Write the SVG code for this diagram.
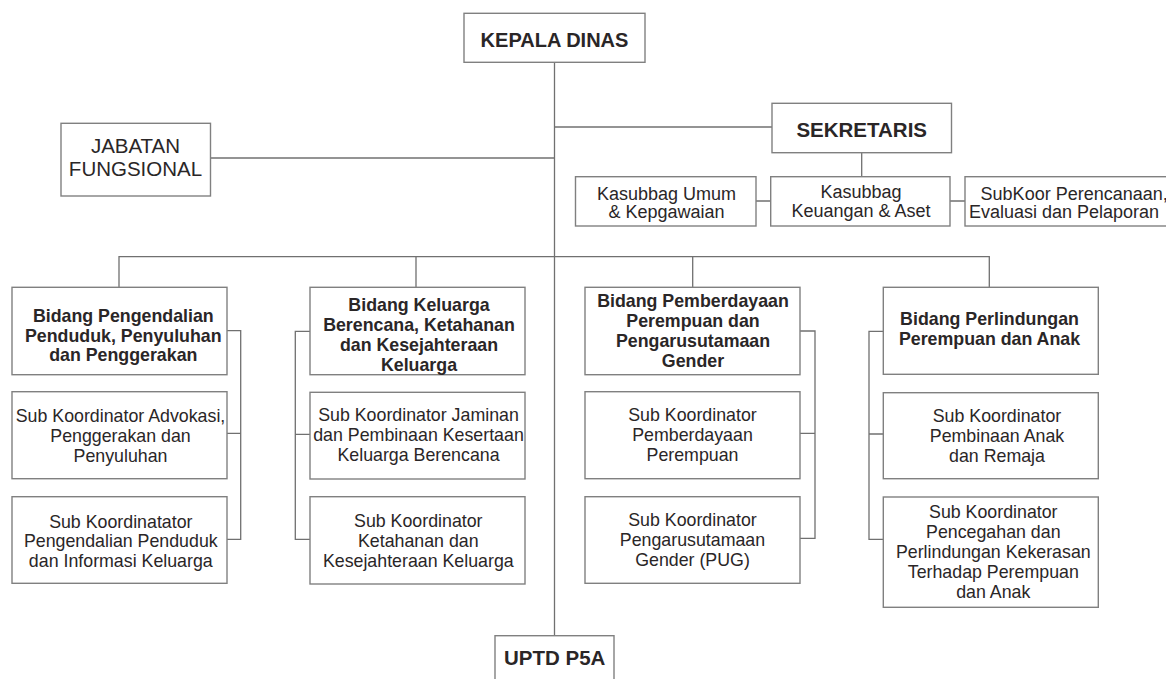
<svg xmlns="http://www.w3.org/2000/svg" width="1166" height="679" viewBox="0 0 1166 679">
<style>
.box{fill:#fff;stroke:#808080;stroke-width:1.4}
.ln{fill:none;stroke:#707070;stroke-width:1.3}
.t{font-family:"Liberation Sans",Arial,sans-serif;fill:#2a2627;text-anchor:middle}
.n{font-size:17.8px}
.b{font-size:17.8px;font-weight:bold}
</style>
<rect width="1166" height="679" fill="#fff"/>
<g id="connectors">
<path class="ln" d="M554.5,62 V635.7"/>
<path class="ln" d="M554.5,127 H772"/>
<path class="ln" d="M210.5,158 H554.5"/>
<path class="ln" d="M861.7,152.7 V176.7"/>
<path class="ln" d="M756,201 H770.7 M950,201 H965"/>
<path class="ln" d="M119,287.3 V256.7 H989.3 V287.3 M416,256.7 V287.3 M692.7,256.7 V287.3"/>
<path class="ln" d="M227,330.7 H240.7 V539.3 H227 M240.7,433.3 H227"/>
<path class="ln" d="M310,331.3 H295.3 V539.3 H310 M295.3,434.3 H310"/>
<path class="ln" d="M800,331 H815 V538.3 H800 M815,433.3 H800"/>
<path class="ln" d="M883.3,331.3 H869 V539.3 H883.3 M869,434 H883.3"/>
</g>
<g id="kepala">
<rect class="box" x="464" y="13.3" width="181" height="49"/>
<text class="t" x="554.5" y="46.7" font-size="20" font-weight="bold">KEPALA DINAS</text>
</g>
<g id="jabatan">
<rect class="box" x="61" y="123.3" width="149.5" height="72.7"/>
<text class="t" x="135.5" y="153.3" font-size="20.5">JABATAN</text>
<text class="t" x="135.5" y="176" font-size="20.5">FUNGSIONAL</text>
</g>
<g id="sekretaris">
<rect class="box" x="772" y="103.3" width="179.5" height="49.4"/>
<text class="t" x="861.7" y="136.7" font-size="20.5" font-weight="bold">SEKRETARIS</text>
</g>
<g id="kasubbag-umum">
<rect class="box" x="575.5" y="176.7" width="180.5" height="49.3"/>
<text class="t" x="666.5" y="199.5" font-size="18">Kasubbag Umum</text>
<text class="t" x="666.5" y="218.3" font-size="18">&amp; Kepgawaian</text>
</g>
<g id="kasubbag-keuangan">
<rect class="box" x="770.7" y="176.7" width="179.3" height="49.3"/>
<text class="t" x="861" y="197.5" font-size="18">Kasubbag</text>
<text class="t" x="861" y="216.7" font-size="18">Keuangan &amp; Aset</text>
</g>
<g id="subkoor-perencanaan">
<rect class="box" x="965" y="176.7" width="220" height="49.3"/>
<text class="t" x="980.6" y="199.5" font-size="18" text-anchor="start" style="text-anchor:start">SubKoor Perencanaan,</text>
<text class="t" x="969" y="218.3" font-size="18" style="text-anchor:start">Evaluasi dan Pelaporan</text>
</g>
<g id="bidang-1">
<rect class="box" x="12" y="287.3" width="215" height="87.4"/>
<text class="t b" x="123.3" y="321.5">Bidang Pengendalian</text>
<text class="t b" x="123.3" y="341.5">Penduduk, Penyuluhan</text>
<text class="t b" x="123.3" y="361.3">dan Penggerakan</text>
</g>
<g id="sub-1a">
<rect class="box" x="12" y="391.7" width="215" height="87"/>
<text class="t n" x="120.5" y="422">Sub Koordinator Advokasi,</text>
<text class="t n" x="120.5" y="441.7">Penggerakan dan</text>
<text class="t n" x="120.5" y="461.7">Penyuluhan</text>
</g>
<g id="sub-1b">
<rect class="box" x="12" y="496.7" width="215" height="86.6"/>
<text class="t n" x="120.8" y="527.7">Sub Koordinatator</text>
<text class="t n" x="120.8" y="546.9">Pengendalian Penduduk</text>
<text class="t n" x="120.8" y="566.7">dan Informasi Keluarga</text>
</g>
<g id="bidang-2">
<rect class="box" x="310" y="287.3" width="215" height="87.4"/>
<text class="t b" x="419" y="310.7">Bidang Keluarga</text>
<text class="t b" x="419" y="330.7">Berencana, Ketahanan</text>
<text class="t b" x="419" y="350.7">dan Kesejahteraan</text>
<text class="t b" x="419" y="370.5">Keluarga</text>
</g>
<g id="sub-2a">
<rect class="box" x="310" y="392.3" width="215" height="86.7"/>
<text class="t n" x="418.5" y="421.3">Sub Koordinator Jaminan</text>
<text class="t n" x="418.5" y="441.3">dan Pembinaan Kesertaan</text>
<text class="t n" x="418.5" y="461.3">Keluarga Berencana</text>
</g>
<g id="sub-2b">
<rect class="box" x="310" y="496.7" width="215" height="87.3"/>
<text class="t n" x="418.3" y="526.7">Sub Koordinator</text>
<text class="t n" x="418.3" y="546.7">Ketahanan dan</text>
<text class="t n" x="418.3" y="566.7">Kesejahteraan Keluarga</text>
</g>
<g id="bidang-3">
<rect class="box" x="585" y="287.3" width="215" height="87.4"/>
<text class="t b" x="693" y="307.3">Bidang Pemberdayaan</text>
<text class="t b" x="693" y="327.3">Perempuan dan</text>
<text class="t b" x="693" y="347.3">Pengarusutamaan</text>
<text class="t b" x="693" y="367.3">Gender</text>
</g>
<g id="sub-3a">
<rect class="box" x="585" y="391.7" width="215" height="87"/>
<text class="t n" x="692.5" y="421.3">Sub Koordinator</text>
<text class="t n" x="692.5" y="441.3">Pemberdayaan</text>
<text class="t n" x="692.5" y="461.3">Perempuan</text>
</g>
<g id="sub-3b">
<rect class="box" x="585" y="496.7" width="215" height="86.6"/>
<text class="t n" x="692.5" y="526.3">Sub Koordinator</text>
<text class="t n" x="692.5" y="546.3">Pengarusutamaan</text>
<text class="t n" x="692.5" y="566.3">Gender (PUG)</text>
</g>
<g id="bidang-4">
<rect class="box" x="883.3" y="287.3" width="215" height="87"/>
<text class="t b" x="989.5" y="325.3">Bidang Perlindungan</text>
<text class="t b" x="989.5" y="345.3">Perempuan dan Anak</text>
</g>
<g id="sub-4a">
<rect class="box" x="883.3" y="392.7" width="215" height="86"/>
<text class="t n" x="997" y="422.3">Sub Koordinator</text>
<text class="t n" x="997" y="442.3">Pembinaan Anak</text>
<text class="t n" x="997" y="462.3">dan Remaja</text>
</g>
<g id="sub-4b">
<rect class="box" x="883.3" y="497" width="215" height="110.3"/>
<text class="t n" x="993.3" y="518.3">Sub Koordinator</text>
<text class="t n" x="993.3" y="538.3">Pencegahan dan</text>
<text class="t n" x="993.3" y="558.3">Perlindungan Kekerasan</text>
<text class="t n" x="993.3" y="578.3">Terhadap Perempuan</text>
<text class="t n" x="993.3" y="597.9">dan Anak</text>
</g>
<g id="uptd">
<rect class="box" x="495" y="635.7" width="119" height="60"/>
<text class="t" x="554.7" y="665" font-size="20.5" font-weight="bold">UPTD P5A</text>
</g>
</svg>
